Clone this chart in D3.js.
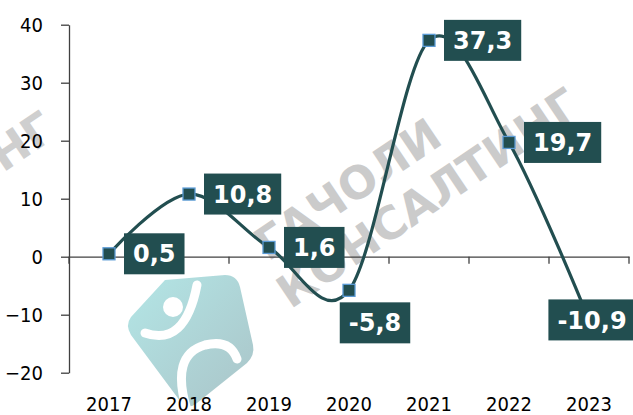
<!DOCTYPE html>
<html><head><meta charset="utf-8">
<script src="https://cdn.jsdelivr.net/npm/d3@7"></script>
<style>
html,body{margin:0;padding:0;background:#fff;}
svg{display:block;}
</style></head>
<body>
<svg id="chart" width="633" height="415"></svg>
<script>
const years = ["2017","2018","2019","2020","2021","2022","2023"];
const values = [0.5, 10.8, 1.6, -5.8, 37.3, 19.7, -10.9];
const labels = ["0,5","10,8","1,6","-5,8","37,3","19,7","-10,9"];
const yTicks = [-20, -10, 0, 10, 20, 30, 40];

const W = 633, H = 415;
const svg = d3.select("#chart");
const dark = "#224E50";
const axisColor = "#404040";
const axisFont = "'DejaVu Sans Condensed', 'DejaVu Sans', sans-serif";

const x = d3.scaleBand().domain(years).range([69, 629]).padding(0);
const y = d3.scaleLinear().domain([-20, 40]).range([372.7, 24.7]);

// watermark
const wm = svg.append("g").attr("class","watermark");
const grad = svg.append("defs").append("linearGradient").attr("id","lg")
  .attr("x1","0").attr("y1","0").attr("x2","1").attr("y2","1");
grad.append("stop").attr("offset","0").attr("stop-color","#b3e6e6");
grad.append("stop").attr("offset","1").attr("stop-color","#aac4c8");
const logo = wm.append("g").attr("transform","translate(125,275)");
logo.append("path")
  .attr("d","M40,5 L100,0 Q112,0 115,12 L128,70 Q130,80 122,88 L72,128 Q62,136 55,126 L6,60 Q0,50 6,42 Z")
  .attr("fill","url(#lg)");
logo.append("circle").attr("cx",48).attr("cy",32).attr("r",10).attr("fill","#fff");
logo.append("path").attr("d","M20,58 Q60,72 72,10").attr("fill","none").attr("stroke","#fff").attr("stroke-width",9).attr("stroke-linecap","round");
logo.append("path").attr("d","M62,135 Q45,80 80,70 Q105,64 112,84").attr("fill","none").attr("stroke","#fff").attr("stroke-width",9).attr("stroke-linecap","round");

const wmText = wm.append("g").attr("transform","translate(268,262) rotate(-34)")
  .attr("font-family","DejaVu Sans, sans-serif").attr("font-weight","bold")
  .attr("font-size",45).attr("fill","#cbcbcb");
wmText.append("text").attr("x",0).attr("y",0).text("ГАЧОЛИ");
wmText.append("text").attr("x",-8).attr("y",52).text("КОНСАЛТИНГ");
wm.append("g").attr("transform","translate(58,136) rotate(-34)")
  .append("text").attr("text-anchor","end")
  .attr("font-family","DejaVu Sans, sans-serif").attr("font-weight","bold")
  .attr("font-size",45).attr("fill","#cfcfcf").text("КОНСАЛТИНГ");

// y axis
const yAxis = svg.append("g").attr("transform","translate(69,0)")
  .call(d3.axisLeft(y).tickValues(yTicks).tickSize(8).tickSizeOuter(0).tickPadding(18));
yAxis.select(".domain").attr("stroke",axisColor).attr("stroke-width",1.3);
yAxis.selectAll(".tick line").attr("stroke",axisColor).attr("stroke-width",1.3);
yAxis.selectAll(".tick text").attr("font-family",axisFont)
  .attr("font-size",20).attr("fill","#000").attr("dy","0.36em");

// x axis at zero
const xAxis = svg.append("g").attr("transform",`translate(0,${y(0)})`)
  .call(d3.axisBottom(x).tickSize(0).tickSizeOuter(0));
xAxis.select(".domain").attr("stroke",axisColor).attr("stroke-width",1.3);
xAxis.selectAll(".tick text").attr("font-family",axisFont)
  .attr("font-size",20).attr("fill","#000")
  .attr("y", 411 - y(0)).attr("dy",0);
const bounds = years.map(d => x(d)).concat([x(years[years.length-1]) + x.bandwidth()]);
xAxis.selectAll(".bt").data(bounds).enter().append("line")
  .attr("x1",d=>d).attr("x2",d=>d).attr("y1",0).attr("y2",7)
  .attr("stroke",axisColor).attr("stroke-width",1.3);

// line
const pts = years.map((d,i)=>({year:d, v:values[i], label:labels[i], i}));
const line = d3.line().x(d=>x(d.year)+x.bandwidth()/2).y(d=>y(d.v))
  .curve(d3.curveCardinal.tension(0));
svg.append("path").datum(pts).attr("d",line)
  .attr("fill","none").attr("stroke",dark).attr("stroke-width",3.2);

// markers
svg.selectAll(".mk").data(pts).enter().append("rect")
  .attr("x",d=>x(d.year)+x.bandwidth()/2-6).attr("y",d=>y(d.v)-6)
  .attr("width",12).attr("height",12)
  .attr("fill",dark).attr("stroke","#5B9BD5").attr("stroke-width",1.3);

// labels
const lg = svg.selectAll(".lb").data(pts).enter().append("g");
lg.each(function(d){
  const g = d3.select(this);
  const px = x(d.year)+x.bandwidth()/2, py = y(d.v);
  const t = g.append("text").text(d.label)
    .attr("font-family","DejaVu Sans, sans-serif").attr("font-weight","bold")
    .attr("font-size",24).attr("fill","#fff").attr("text-anchor","middle");
  const tw = t.node().getComputedTextLength();
  const bw = tw + 18, bh = 41;
  let cx, cy;
  if (d.i === 3) { cx = px + 26; cy = py + 12 + bh/2; }
  else if (d.i === 6) { cx = px + 3; cy = py; }
  else { cx = px + 15 + bw/2; cy = py; }
  g.insert("rect","text").attr("x",cx-bw/2).attr("y",cy-bh/2)
    .attr("width",bw).attr("height",bh).attr("fill",dark);
  t.attr("x",cx).attr("y",cy).attr("dy","0.36em");
});
</script>
</body></html>
